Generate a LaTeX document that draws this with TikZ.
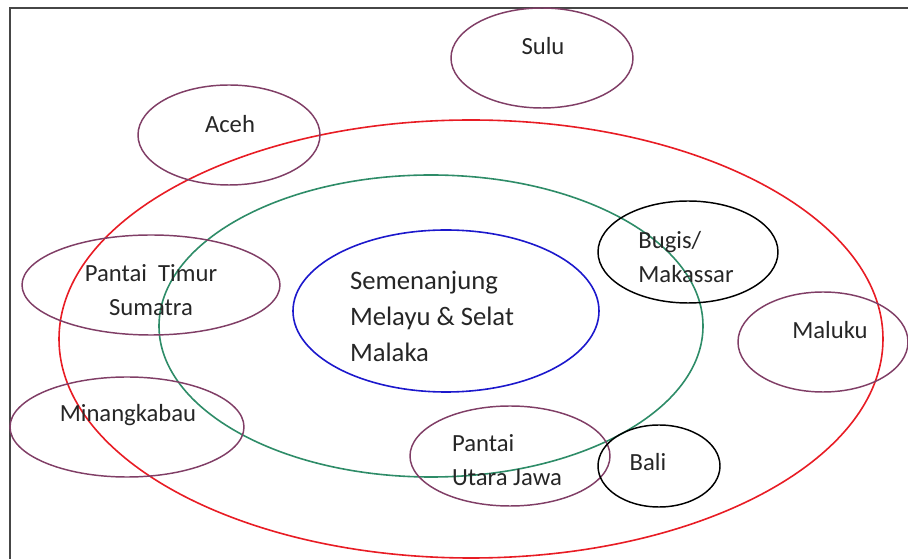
\documentclass[tikz,border=0pt]{standalone}
\usepackage{fontspec}
\setmainfont{Carlito}
\usetikzlibrary{positioning}

\definecolor{plum}{RGB}{128,62,102}
\definecolor{ringred}{RGB}{232,28,36}
\definecolor{ringgreen}{RGB}{46,140,104}
\definecolor{ringblue}{RGB}{28,24,204}
\definecolor{framegray}{RGB}{70,70,70}

\begin{document}
\begin{tikzpicture}[x=0.75pt, y=-0.75pt,
  region/.style={draw=plum, line width=1.1pt},
  ring/.style={line width=1.2pt},
  lbl/.style={font=\fontsize{18.5}{26}\selectfont, inner sep=0pt, text=black!85},
  core/.style={font=\fontsize{20}{27}\selectfont, inner sep=0pt, align=left, text=black!85}]
  \useasboundingbox (0,0) rectangle (908,559);
  \clip (0,0) rectangle (908,559);

  % frame
  \draw[framegray, line width=1.5pt] (10,570) -- (10,8) -- (920,8);

  % rings
  \draw[ring, ringred] (471,339) ellipse (412 and 219);
  \draw[ring, ringgreen] (431,326) ellipse (272 and 151);
  \draw[ring, ringblue] (446,311) ellipse (153 and 81);

  % regions
  \draw[region] (542,58) ellipse (91 and 50);
  \draw[region] (229,135) ellipse (91 and 50);
  \draw[region] (151,285) ellipse (129 and 50);
  \draw[region] (127,427) ellipse (117 and 50);
  \draw[region] (510,456) ellipse (100 and 50);
  \draw[region] (823,342) ellipse (85 and 50);
  \draw[line width=1.1pt] (688,252) ellipse (90 and 51);
  \draw[line width=1.1pt] (659,466) ellipse (61 and 41);

  % labels
  \node[core] (semenanjung) at (432,316) {Semenanjung\\Melayu \& Selat\\Malaka};
  \node[lbl] (sulu) at (543,46) {Sulu};
  \node[lbl] (aceh) at (230,124) {Aceh};
  \node[lbl, align=center] (timur) at (151,290) {Pantai~~Timur\\Sumatra};
  \node[lbl] (minang) at (128,415) {Minangkabau};
  \node[lbl, align=left] (jawa) at (507,460) {Pantai\\Utara Jawa};
  \node[lbl, align=left] (bugis) at (686,257) {Bugis/\\Makassar};
  \node[lbl] (maluku) at (830,330) {Maluku};
  \node[lbl] (bali) at (648,462) {Bali};
\end{tikzpicture}
\end{document}
